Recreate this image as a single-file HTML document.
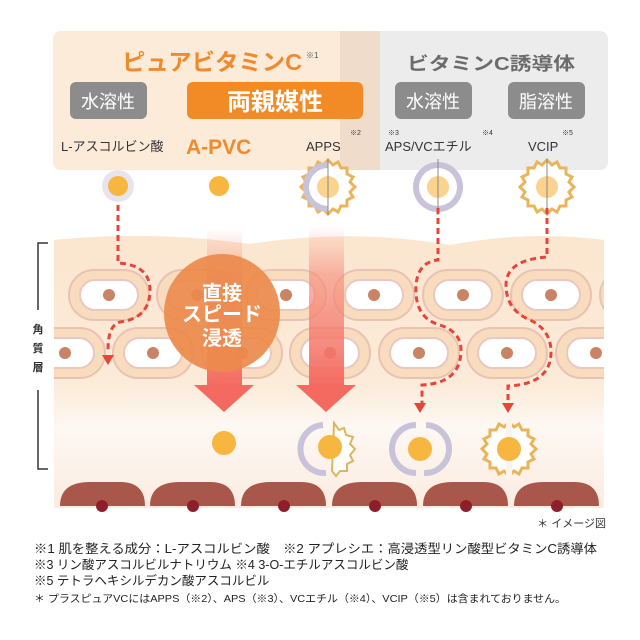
<!DOCTYPE html>
<html><head><meta charset="utf-8"><style>
html,body{margin:0;padding:0;background:#fff;}
svg{display:block;font-family:"Liberation Sans","Noto Sans CJK JP",sans-serif;}
</style></head><body>
<svg width="640" height="640" viewBox="0 0 640 640" xmlns="http://www.w3.org/2000/svg">
<defs>
<linearGradient id="skin" x1="0" y1="0" x2="0" y2="1">
<stop offset="0" stop-color="#fbe6cf"/><stop offset="0.55" stop-color="#fcebd9"/><stop offset="0.7" stop-color="#fdf8f3"/><stop offset="1" stop-color="#fcebe0"/>
</linearGradient>
<linearGradient id="arr" x1="0" y1="0" x2="0" y2="1">
<stop offset="0" stop-color="#f7a090" stop-opacity="0"/><stop offset="0.3" stop-color="#f58a7a" stop-opacity="0.6"/><stop offset="1" stop-color="#f46a60"/>
</linearGradient>
<clipPath id="skinclip"><rect x="54" y="200" width="550" height="320"/></clipPath>
<g id="cell"><rect x="-40" y="-25" width="80" height="50" rx="25" fill="#f8dcbd" stroke="#e8c2b4" stroke-width="2"/><rect x="-29" y="-15" width="58" height="30" rx="15" fill="#fff" stroke="#e8c8c0" stroke-width="2"/><circle r="6" fill="#c98465"/></g>
<g id="sun"><polygon points="0,-27 5,-22 10,-25 13,-19 19,-19 19,-13 25,-10 22,-5 27,0 22,5 25,10 19,13 19,19 13,19 10,25 5,22 0,27 -5,22 -10,25 -13,19 -19,19 -19,13 -25,10 -22,5 -27,0 -22,-5 -25,-10 -19,-13 -19,-19 -13,-19 -10,-25 -5,-22" fill="#fff" stroke="#e9b45a" stroke-width="3"/></g>
</defs>
<!-- top panels -->
<rect x="340" y="31" width="268" height="139" rx="8" fill="#ececec"/>
<rect x="53" y="31" width="327" height="139" rx="8" fill="#fcebd9"/>
<rect x="340" y="31" width="40" height="139" fill="#efdccb"/>
<text x="122" y="70" font-size="23" font-weight="bold" fill="#f18a2c" textLength="180" lengthAdjust="spacingAndGlyphs">ピュアビタミンC</text>
<text x="306" y="58" font-size="8" fill="#555">※1</text>
<text x="407" y="70" font-size="18" font-weight="bold" fill="#6b6b6b" textLength="168" lengthAdjust="spacingAndGlyphs">ビタミンC誘導体</text>
<rect x="70" y="82" width="77" height="37" rx="6" fill="#8c8c8c"/>
<text x="108" y="108" font-size="18" fill="#fff" text-anchor="middle">水溶性</text>
<rect x="187" y="82" width="176" height="37" rx="6" fill="#f28a26"/>
<text x="275" y="110" font-size="24" font-weight="bold" fill="#fff" text-anchor="middle">両親媒性</text>
<rect x="395" y="82" width="77" height="37" rx="6" fill="#8c8c8c"/>
<text x="433" y="108" font-size="18" fill="#fff" text-anchor="middle">水溶性</text>
<rect x="508" y="82" width="77" height="37" rx="6" fill="#8c8c8c"/>
<text x="546" y="108" font-size="18" fill="#fff" text-anchor="middle">脂溶性</text>
<text x="61" y="151" font-size="13" fill="#333">L-アスコルビン酸</text>
<text x="186" y="154" font-size="21" font-weight="bold" fill="#f18a2c">A-PVC</text>
<text x="306" y="151" font-size="13" fill="#333">APPS</text>
<text x="350" y="135" font-size="7" fill="#333">※2</text>
<text x="385" y="151" font-size="13" fill="#333">APS/VCエチル</text>
<text x="388" y="135" font-size="7" fill="#333">※3</text>
<text x="482" y="135" font-size="7" fill="#333">※4</text>
<text x="528" y="151" font-size="13" fill="#333">VCIP</text>
<text x="562" y="135" font-size="7" fill="#333">※5</text>
<!-- top molecules -->
<circle cx="118" cy="186" r="16" fill="#e8e4ee"/><circle cx="118" cy="186" r="10" fill="#f7b640"/>
<circle cx="219" cy="186" r="10" fill="#f7b640"/>
<g transform="translate(328,187)"><use href="#sun"/><path d="M0,-25 A25,25 0 0 0 0,25 Z" fill="#c9c3d9"/><path d="M0,-19 A19,19 0 0 0 0,19 Z" fill="#fff"/><circle r="11" fill="#fbd28e"/><line x1="0" y1="-28" x2="0" y2="28" stroke="#888" stroke-width="1"/></g>
<g transform="translate(438,187)"><circle r="25" fill="#c9c3d9"/><circle r="19" fill="#fff"/><circle r="11" fill="#fbd28e"/><line x1="0" y1="-28" x2="0" y2="28" stroke="#888" stroke-width="1"/></g>
<g transform="translate(547,187)"><use href="#sun"/><circle r="11" fill="#fbd28e"/><line x1="0" y1="-28" x2="0" y2="28" stroke="#888" stroke-width="1"/></g>
<!-- skin -->
<g clip-path="url(#skinclip)">
<path d="M54,240 Q150,230 250,244 Q350,228 450,245 Q530,230 604,240 L604,508 L54,508 Z" fill="url(#skin)"/>
<use href="#cell" x="109" y="295"/><use href="#cell" x="197" y="295"/><use href="#cell" x="286" y="295"/><use href="#cell" x="374" y="295"/><use href="#cell" x="463" y="295"/><use href="#cell" x="551" y="295"/><use href="#cell" x="640" y="295"/>
<use href="#cell" x="65" y="353"/><use href="#cell" x="153" y="353"/><use href="#cell" x="242" y="353"/><use href="#cell" x="330" y="353"/><use href="#cell" x="419" y="353"/><use href="#cell" x="507" y="353"/><use href="#cell" x="596" y="353"/>
</g>
<!-- bottom dark cells -->
<g fill="#a9574a">
<path d="M60,506 Q60,482 90,482 L120,482 Q145,482 145,506 Z"/>
<path d="M150,506 Q150,482 180,482 L210,482 Q235,482 235,506 Z"/>
<path d="M241,506 Q241,482 271,482 L301,482 Q326,482 326,506 Z"/>
<path d="M332,506 Q332,482 362,482 L392,482 Q417,482 417,506 Z"/>
<path d="M423,506 Q423,482 453,482 L483,482 Q508,482 508,506 Z"/>
<path d="M514,506 Q514,482 544,482 L574,482 Q599,482 599,506 Z"/>
</g>
<g fill="#8e1f2a"><circle cx="102" cy="506" r="6"/><circle cx="193" cy="506" r="6"/><circle cx="284" cy="506" r="6"/><circle cx="375" cy="506" r="6"/><circle cx="466" cy="506" r="6"/><circle cx="557" cy="506" r="6"/></g>
<!-- arrows -->
<rect x="207" y="228" width="35" height="160" fill="url(#arr)"/>
<polygon points="194,385 254,385 224,412" fill="#f46a60"/>
<rect x="309" y="225" width="35" height="163" fill="url(#arr)"/>
<polygon points="296,385 356,385 326,412" fill="#f46a60"/>
<!-- circle -->
<ellipse cx="222" cy="313" rx="58" ry="59" fill="#ec8a4c" fill-opacity="0.92"/>
<text x="222" y="300" font-size="20" font-weight="bold" fill="#fff" text-anchor="middle">直接</text>
<text x="222" y="321" font-size="20" font-weight="bold" fill="#fff" text-anchor="middle">スピード</text>
<text x="222" y="345" font-size="20" font-weight="bold" fill="#fff" text-anchor="middle">浸透</text>
<!-- dashed -->
<g fill="none" stroke="#e8443c" stroke-width="3" stroke-dasharray="6,4">
<path d="M118,205 V263 Q150,265 150,290 Q150,318 120,322 Q108,325 108,350"/>
<path d="M438,208 V260 Q418,262 416,285 Q414,318 440,325 Q461,332 461,350 Q461,383 422,385 V403"/>
<path d="M547,208 V257 Q506,260 506,285 Q506,310 530,320 Q551,330 551,352 Q551,384 508,386 V403"/>
</g>
<g fill="#e8443c"><polygon points="102,355 114,355 108,365"/><polygon points="414,403 426,403 420,413"/><polygon points="502,403 514,403 508,413"/></g>
<!-- bottom molecules -->
<circle cx="224" cy="443" r="12" fill="#f7b640"/>
<g transform="translate(328,449)"><path d="M-5,-24 A24,24 0 0 0 -2,24" fill="none" stroke="#c9c3d9" stroke-width="6"/><polygon points="6,-26 11,-19 16,-21 18,-14 25,-12 22,-5 27,0 22,6 25,12 19,15 19,22 12,22 8,27 4,22" fill="#fff" stroke="#e0b45a" stroke-width="2"/><circle cx="2" cy="-2" r="12" fill="#f7b640"/></g>
<g transform="translate(420,449)"><path d="M-4,-24 A24,24 0 0 0 -4,24" fill="none" stroke="#c9c3d9" stroke-width="6"/><path d="M6,-24 A24,24 0 0 1 4,24" fill="none" stroke="#c9c3d9" stroke-width="6"/><circle r="12" fill="#f7b640"/></g>
<g transform="translate(509,449)"><use href="#sun"/><rect x="-3" y="-30" width="6" height="60" fill="#fcf3ec"/><circle r="12" fill="#f7b640"/></g>
<!-- bracket -->
<path d="M48,243 H38 V310 M38,390 V469 H48" fill="none" stroke="#333" stroke-width="1.5"/>
<text x="38" y="333" font-size="11" font-weight="bold" fill="#333" text-anchor="middle">角</text>
<text x="38" y="352" font-size="11" font-weight="bold" fill="#333" text-anchor="middle">質</text>
<text x="38" y="371" font-size="11" font-weight="bold" fill="#333" text-anchor="middle">層</text>
<!-- notes -->
<text x="606" y="527" font-size="11" fill="#333" text-anchor="end">＊ イメージ図</text>
<text x="34" y="553" font-size="12.5" fill="#222" textLength="563" lengthAdjust="spacingAndGlyphs">※1 肌を整える成分：L-アスコルビン酸　※2 アプレシエ：高浸透型リン酸型ビタミンC誘導体</text>
<text x="34" y="569" font-size="12.5" fill="#222">※3 リン酸アスコルビルナトリウム ※4 3-O-エチルアスコルビン酸</text>
<text x="34" y="585" font-size="12.5" fill="#222">※5 テトラヘキシルデカン酸アスコルビル</text>
<text x="34" y="602" font-size="10.5" fill="#222" textLength="532" lengthAdjust="spacingAndGlyphs">＊ プラスピュアVCにはAPPS（※2）、APS（※3）、VCエチル（※4）、VCIP（※5）は含まれておりません。</text>
</svg>
</body></html>
